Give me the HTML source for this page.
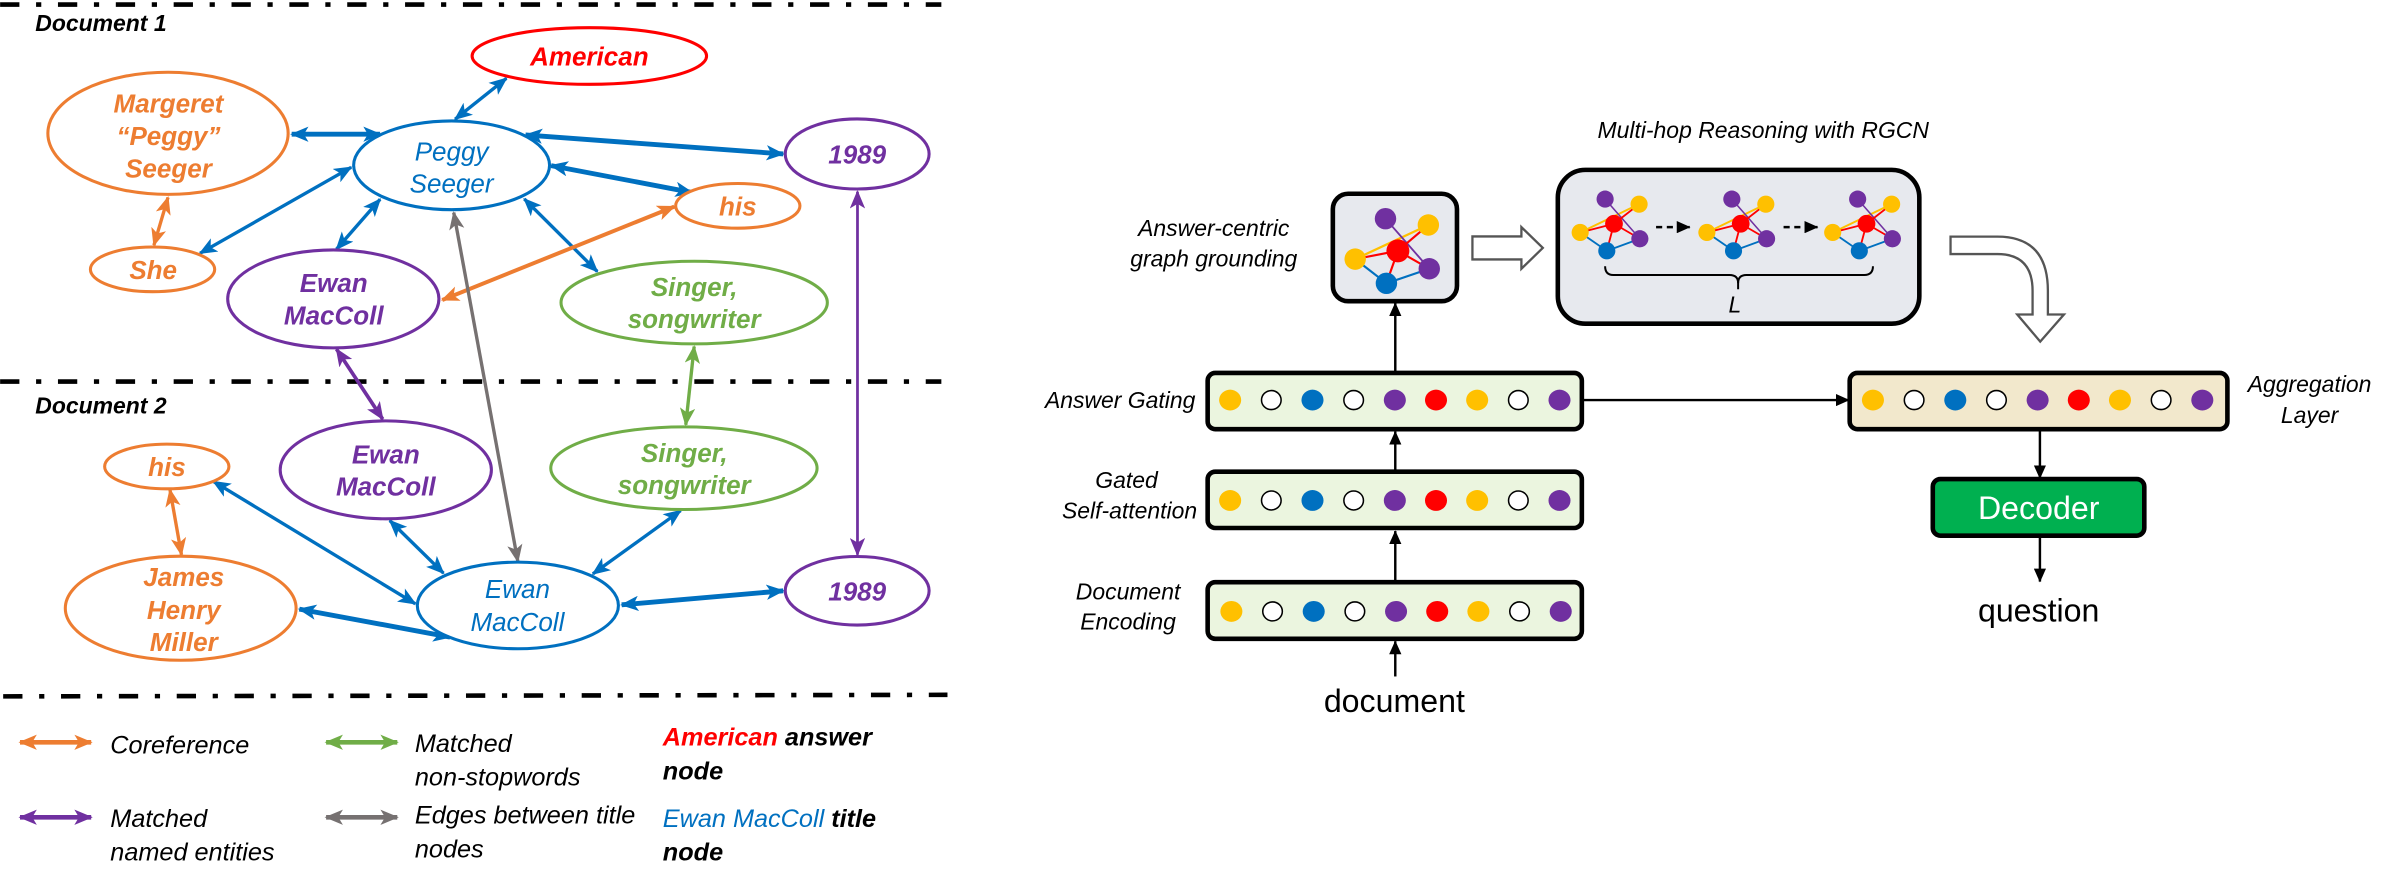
<!DOCTYPE html>
<html><head><meta charset="utf-8"><style>
html,body{margin:0;padding:0;background:#fff;}
svg{display:block;}
text{font-family:"Liberation Sans",Arial,sans-serif;}
.n{font-weight:bold;font-style:italic;font-size:17px;text-anchor:middle;dominant-baseline:central;}
.t{font-style:italic;font-size:17px;text-anchor:middle;dominant-baseline:central;}
.lg{font-style:italic;font-size:16.5px;dominant-baseline:central;}
.lb{font-style:italic;font-size:15px;dominant-baseline:central;}
</style></head><body>
<svg width="2400" height="884" viewBox="0 0 1568 577.6" xmlns="http://www.w3.org/2000/svg">
<defs>
<marker id="hb" markerUnits="userSpaceOnUse" markerWidth="12" markerHeight="10" refX="11" refY="5" orient="auto-start-reverse"><path d="M0,0 L12,5 L0,10 L3,5 z" fill="#0070c0"/></marker>
<marker id="ho" markerUnits="userSpaceOnUse" markerWidth="12" markerHeight="10" refX="11" refY="5" orient="auto-start-reverse"><path d="M0,0 L12,5 L0,10 L3,5 z" fill="#ed7d31"/></marker>
<marker id="hp" markerUnits="userSpaceOnUse" markerWidth="12" markerHeight="10" refX="11" refY="5" orient="auto-start-reverse"><path d="M0,0 L12,5 L0,10 L3,5 z" fill="#7030a0"/></marker>
<marker id="hg" markerUnits="userSpaceOnUse" markerWidth="12" markerHeight="10" refX="11" refY="5" orient="auto-start-reverse"><path d="M0,0 L12,5 L0,10 L3,5 z" fill="#70ad47"/></marker>
<marker id="hy" markerUnits="userSpaceOnUse" markerWidth="12" markerHeight="10" refX="11" refY="5" orient="auto-start-reverse"><path d="M0,0 L12,5 L0,10 L3,5 z" fill="#767171"/></marker>
<marker id="hk" markerUnits="userSpaceOnUse" markerWidth="9" markerHeight="8" refX="8.5" refY="4" orient="auto"><path d="M0,0 L9,4 L0,8 z" fill="#000"/></marker>
<g id="mg">
 <line x1="1032.4" y1="151.9" x2="1070.9" y2="133.4" stroke="#ffc000" stroke-width="1.3"/>
 <line x1="1048.7" y1="130.1" x2="1071.4" y2="156" stroke="#7030a0" stroke-width="1"/>
 <line x1="1054.5" y1="146.2" x2="1070.9" y2="133.4" stroke="#ff0000" stroke-width="1.2"/>
 <line x1="1054.5" y1="146.2" x2="1032.4" y2="151.9" stroke="#ff0000" stroke-width="1.2"/>
 <line x1="1054.5" y1="146.2" x2="1049.8" y2="163.9" stroke="#ff0000" stroke-width="1.2"/>
 <line x1="1054.5" y1="146.2" x2="1071.4" y2="156" stroke="#ff0000" stroke-width="1.2"/>
 <line x1="1049.8" y1="163.9" x2="1032.4" y2="151.9" stroke="#0070c0" stroke-width="1.2"/>
 <line x1="1049.8" y1="163.9" x2="1071.4" y2="156" stroke="#0070c0" stroke-width="1.2"/>
 <ellipse cx="1048.7" cy="130.1" rx="5.6" ry="5.6" fill="#7030a0"/>
 <ellipse cx="1070.9" cy="133.4" rx="5.6" ry="5.6" fill="#ffc000"/>
 <ellipse cx="1054.5" cy="146.2" rx="5.8" ry="5.8" fill="#ff0000"/>
 <ellipse cx="1032.4" cy="151.9" rx="5.6" ry="5.6" fill="#ffc000"/>
 <ellipse cx="1071.4" cy="156" rx="5.6" ry="5.6" fill="#7030a0"/>
 <ellipse cx="1049.8" cy="163.9" rx="5.6" ry="5.6" fill="#0070c0"/>
</g>
<g id="row">
 <ellipse cx="0" cy="0" rx="7.2" ry="6.8" fill="#ffc000"/>
 <ellipse cx="26.9" cy="0" rx="6.4" ry="6.2" fill="#fff" stroke="#000" stroke-width="1"/>
 <ellipse cx="53.8" cy="0" rx="7.2" ry="6.8" fill="#0070c0"/>
 <ellipse cx="80.7" cy="0" rx="6.4" ry="6.2" fill="#fff" stroke="#000" stroke-width="1"/>
 <ellipse cx="107.6" cy="0" rx="7.2" ry="6.8" fill="#7030a0"/>
 <ellipse cx="134.5" cy="0" rx="7.2" ry="6.8" fill="#ff0000"/>
 <ellipse cx="161.4" cy="0" rx="7.2" ry="6.8" fill="#ffc000"/>
 <ellipse cx="188.3" cy="0" rx="6.4" ry="6.2" fill="#fff" stroke="#000" stroke-width="1"/>
 <ellipse cx="215.2" cy="0" rx="7.2" ry="6.8" fill="#7030a0"/>
</g>
</defs>

<!-- dash-dot separators -->
<g stroke="#000" stroke-width="3" stroke-dasharray="12.6 10.9 3.4 10.9" fill="none">
<line x1="0" y1="3" x2="615" y2="3"/>
<line x1="0" y1="249.3" x2="615" y2="249.3"/>
<line x1="2" y1="455" x2="619" y2="454"/>
</g>
<text x="23" y="15" class="n" style="text-anchor:start;font-size:15px;fill:#000">Document 1</text>
<text x="23" y="265" class="n" style="text-anchor:start;font-size:15px;fill:#000">Document 2</text>

<!-- edges -->
<g fill="none">
<line x1="330.8" y1="51.2" x2="297.3" y2="77.9" stroke="#0070c0" stroke-width="2.2" marker-start="url(#hb)" marker-end="url(#hb)"/>
<line x1="190.5" y1="87.7" x2="248.3" y2="87.7" stroke="#0070c0" stroke-width="3.2" marker-start="url(#hb)" marker-end="url(#hb)"/>
<line x1="343.3" y1="88.2" x2="511.7" y2="100.6" stroke="#0070c0" stroke-width="3.2" marker-start="url(#hb)" marker-end="url(#hb)"/>
<line x1="360" y1="108.2" x2="452.2" y2="125.8" stroke="#0070c0" stroke-width="3.2" marker-start="url(#hb)" marker-end="url(#hb)"/>
<line x1="229.4" y1="109.3" x2="130.6" y2="165.5" stroke="#0070c0" stroke-width="2.2" marker-start="url(#hb)" marker-end="url(#hb)"/>
<line x1="248.3" y1="130.2" x2="219.8" y2="162.8" stroke="#0070c0" stroke-width="2.2" marker-start="url(#hb)" marker-end="url(#hb)"/>
<line x1="342.5" y1="130" x2="390.2" y2="177.4" stroke="#0070c0" stroke-width="2.2" marker-start="url(#hb)" marker-end="url(#hb)"/>
<line x1="440.5" y1="135" x2="288.9" y2="196" stroke="#ed7d31" stroke-width="2.6" marker-start="url(#ho)" marker-end="url(#ho)"/>
<line x1="109.7" y1="129" x2="100.5" y2="160.2" stroke="#ed7d31" stroke-width="2.2" marker-start="url(#ho)" marker-end="url(#ho)"/>
<line x1="296.4" y1="138.9" x2="338.3" y2="366.9" stroke="#767171" stroke-width="2.2" marker-start="url(#hy)" marker-end="url(#hy)"/>
<line x1="560.2" y1="125.2" x2="560.2" y2="362.5" stroke="#7030a0" stroke-width="1.8" marker-start="url(#hp)" marker-end="url(#hp)"/>
<line x1="219.8" y1="228.1" x2="250" y2="273.9" stroke="#7030a0" stroke-width="2.4" marker-start="url(#hp)" marker-end="url(#hp)"/>
<line x1="453.5" y1="226.4" x2="448" y2="277.6" stroke="#70ad47" stroke-width="2.2" marker-start="url(#hg)" marker-end="url(#hg)"/>
<line x1="111" y1="320" x2="118.5" y2="362.5" stroke="#ed7d31" stroke-width="2.2" marker-start="url(#ho)" marker-end="url(#ho)"/>
<line x1="139.4" y1="314.6" x2="271.3" y2="394.5" stroke="#0070c0" stroke-width="2.2" marker-start="url(#hb)" marker-end="url(#hb)"/>
<line x1="254.6" y1="340.1" x2="289.7" y2="374.5" stroke="#0070c0" stroke-width="2.2" marker-start="url(#hb)" marker-end="url(#hb)"/>
<line x1="444.7" y1="333.6" x2="387.3" y2="375" stroke="#0070c0" stroke-width="2.2" marker-start="url(#hb)" marker-end="url(#hb)"/>
<line x1="195.5" y1="398" x2="294" y2="416.3" stroke="#0070c0" stroke-width="3.2" marker-start="url(#hb)" marker-end="url(#hb)"/>
<line x1="406.1" y1="395.2" x2="511.7" y2="386" stroke="#0070c0" stroke-width="3.2" marker-start="url(#hb)" marker-end="url(#hb)"/>
</g>

<!-- nodes -->
<g fill="#fff" stroke-width="2">
<ellipse cx="385" cy="36.6" rx="76.6" ry="18.5" stroke="#ff0000"/>
<ellipse cx="109.7" cy="87.1" rx="78.5" ry="39.9" stroke="#ed7d31"/>
<ellipse cx="295" cy="108" rx="64" ry="29" stroke="#0070c0"/>
<ellipse cx="560" cy="100.6" rx="47" ry="22.9" stroke="#7030a0"/>
<ellipse cx="482" cy="134.5" rx="40.6" ry="14.6" stroke="#ed7d31"/>
<ellipse cx="99.6" cy="176" rx="40.6" ry="14.6" stroke="#ed7d31"/>
<ellipse cx="217.7" cy="195.3" rx="69" ry="32" stroke="#7030a0"/>
<ellipse cx="453.5" cy="197.7" rx="87" ry="27" stroke="#70ad47"/>
<ellipse cx="108.9" cy="304.8" rx="40.6" ry="14.6" stroke="#ed7d31"/>
<ellipse cx="252" cy="307" rx="69" ry="32" stroke="#7030a0"/>
<ellipse cx="446.8" cy="305.9" rx="87" ry="27" stroke="#70ad47"/>
<ellipse cx="118" cy="397.4" rx="75.4" ry="34" stroke="#ed7d31"/>
<ellipse cx="338.3" cy="395.6" rx="65.7" ry="28.3" stroke="#0070c0"/>
<ellipse cx="560" cy="386" rx="47" ry="22.4" stroke="#7030a0"/>
</g>
<g>
<text x="385" y="37" class="n" fill="#ff0000">American</text>
<text x="110" y="67.5" class="n" fill="#ed7d31">Margeret</text>
<text x="110" y="89" class="n" fill="#ed7d31">“Peggy”</text>
<text x="110" y="110" class="n" fill="#ed7d31">Seeger</text>
<text x="295" y="99" class="t" fill="#0070c0">Peggy</text>
<text x="295" y="120" class="t" fill="#0070c0">Seeger</text>
<text x="560" y="101" class="n" fill="#7030a0">1989</text>
<text x="482" y="135" class="n" fill="#ed7d31">his</text>
<text x="100" y="176.5" class="n" fill="#ed7d31">She</text>
<text x="218" y="185" class="n" fill="#7030a0">Ewan</text>
<text x="218" y="206" class="n" fill="#7030a0">MacColl</text>
<text x="453.5" y="187.5" class="n" fill="#70ad47">Singer,</text>
<text x="453.5" y="208.5" class="n" fill="#70ad47">songwriter</text>
<text x="109" y="305" class="n" fill="#ed7d31">his</text>
<text x="252" y="297" class="n" fill="#7030a0">Ewan</text>
<text x="252" y="318" class="n" fill="#7030a0">MacColl</text>
<text x="447" y="296" class="n" fill="#70ad47">Singer,</text>
<text x="447" y="317" class="n" fill="#70ad47">songwriter</text>
<text x="120" y="377" class="n" fill="#ed7d31">James</text>
<text x="120" y="398.5" class="n" fill="#ed7d31">Henry</text>
<text x="120" y="419.5" class="n" fill="#ed7d31">Miller</text>
<text x="338" y="385" class="t" fill="#0070c0">Ewan</text>
<text x="338" y="406.5" class="t" fill="#0070c0">MacColl</text>
<text x="560" y="386.5" class="n" fill="#7030a0">1989</text>
</g>

<!-- legend -->
<g fill="none" stroke-width="3">
<line x1="13" y1="485" x2="59.5" y2="485" stroke="#ed7d31" marker-start="url(#ho)" marker-end="url(#ho)"/>
<line x1="213" y1="485" x2="259.5" y2="485" stroke="#70ad47" marker-start="url(#hg)" marker-end="url(#hg)"/>
<line x1="13" y1="534" x2="59.5" y2="534" stroke="#7030a0" marker-start="url(#hp)" marker-end="url(#hp)"/>
<line x1="213" y1="534" x2="259.5" y2="534" stroke="#767171" marker-start="url(#hy)" marker-end="url(#hy)"/>
</g>
<text x="72" y="487" class="lg">Coreference</text>
<text x="271" y="486" class="lg">Matched</text>
<text x="271" y="508" class="lg">non-stopwords</text>
<text x="72" y="535" class="lg">Matched</text>
<text x="72" y="557" class="lg">named entities</text>
<text x="271" y="533" class="lg">Edges between title</text>
<text x="271" y="555" class="lg">nodes</text>
<text x="433" y="482" class="lg" style="font-weight:bold;"><tspan fill="#ff0000">American</tspan> answer</text>
<text x="433" y="504" class="lg" style="font-weight:bold;">node</text>
<text x="433" y="535" class="lg"><tspan fill="#0070c0">Ewan MacColl</tspan> <tspan style="font-weight:bold">title</tspan></text>
<text x="433" y="557" class="lg" style="font-weight:bold;">node</text>

<!-- right panel -->
<text x="1152" y="85" class="lb" text-anchor="middle">Multi-hop Reasoning with RGCN</text>
<text x="793" y="149" class="lb" text-anchor="middle">Answer-centric</text>
<text x="793" y="169" class="lb" text-anchor="middle">graph grounding</text>

<rect x="870.8" y="126.6" width="81.1" height="70.2" rx="10" fill="#e7e9ee" stroke="#000" stroke-width="3"/>
<g>
 <line x1="885.4" y1="169.3" x2="933.2" y2="147" stroke="#ffc000" stroke-width="1.5"/>
 <line x1="905.2" y1="142.9" x2="933.8" y2="175.6" stroke="#7030a0" stroke-width="1.2"/>
 <line x1="913.3" y1="163.9" x2="933.2" y2="147" stroke="#ff0000" stroke-width="1.4"/>
 <line x1="913.3" y1="163.9" x2="885.4" y2="169.3" stroke="#ff0000" stroke-width="1.4"/>
 <line x1="913.3" y1="163.9" x2="905.8" y2="185.1" stroke="#ff0000" stroke-width="1.4"/>
 <line x1="913.3" y1="163.9" x2="933.8" y2="175.6" stroke="#ff0000" stroke-width="1.4"/>
 <line x1="905.8" y1="185.1" x2="885.4" y2="169.3" stroke="#0070c0" stroke-width="1.4"/>
 <line x1="905.8" y1="185.1" x2="933.8" y2="175.6" stroke="#0070c0" stroke-width="1.4"/>
 <ellipse cx="905.2" cy="142.9" rx="7" ry="7" fill="#7030a0"/>
 <ellipse cx="933.2" cy="147" rx="7" ry="7" fill="#ffc000"/>
 <ellipse cx="913.3" cy="163.9" rx="7.5" ry="7.5" fill="#ff0000"/>
 <ellipse cx="885.4" cy="169.3" rx="7" ry="7" fill="#ffc000"/>
 <ellipse cx="933.8" cy="175.6" rx="7" ry="7" fill="#7030a0"/>
 <ellipse cx="905.8" cy="185.1" rx="7" ry="7" fill="#0070c0"/>
</g>
<!-- hollow arrow -->
<path d="M962,154.5 L994,154.5 L994,148.4 L1008,162 L994,175.6 L994,169.5 L962,169.5 Z" fill="#fff" stroke="#555" stroke-width="1.5"/>

<rect x="1017.8" y="111" width="236.2" height="100.5" rx="18" fill="#e7e9ee" stroke="#000" stroke-width="3"/>
<use href="#mg"/>
<use href="#mg" transform="translate(82.8,0)"/>
<use href="#mg" transform="translate(165,0)"/>
<line x1="1082" y1="148.4" x2="1104" y2="148.4" stroke="#000" stroke-width="1.6" stroke-dasharray="4 3" marker-end="url(#hk)"/>
<line x1="1165.3" y1="148.4" x2="1187.5" y2="148.4" stroke="#000" stroke-width="1.6" stroke-dasharray="4 3" marker-end="url(#hk)"/>
<path d="M1048.7,174 Q1048.7,179.7 1054,179.7 L1130,179.7 Q1135.6,179.7 1135.6,185 Q1135.6,179.7 1141,179.7 L1218,179.7 Q1223.7,179.7 1223.7,174" fill="none" stroke="#000" stroke-width="1.3"/>
<line x1="1135.6" y1="182" x2="1135.6" y2="189" stroke="#000" stroke-width="1.3"/>
<text x="1133.5" y="199" class="lb" text-anchor="middle">L</text>

<!-- bent hollow arrow -->
<path d="M1274.4,154.6 L1305,154.6 Q1338,154.6 1338,190 L1338,205.5 L1348.5,205.5 L1333,223.2 L1318,205.5 L1328,205.5 L1328,190 Q1328,166 1305,166 L1274.4,166 Z" fill="#fff" stroke="#555" stroke-width="1.5"/>

<!-- rows -->
<rect x="789" y="243.7" width="244.5" height="36.7" rx="5" fill="#ebf5df" stroke="#000" stroke-width="3"/>
<rect x="789" y="308.2" width="244.5" height="36.8" rx="5" fill="#ebf5df" stroke="#000" stroke-width="3"/>
<rect x="789" y="380.4" width="244.5" height="37" rx="5" fill="#ebf5df" stroke="#000" stroke-width="3"/>
<rect x="1208.5" y="243.7" width="246.8" height="36.7" rx="5" fill="#f2e8cc" stroke="#000" stroke-width="3"/>
<use href="#row" transform="translate(803.7,261.4)"/>
<use href="#row" transform="translate(803.7,327)"/>
<use href="#row" transform="translate(804.5,399.5)"/>
<use href="#row" transform="translate(1223.7,261.4)"/>

<g stroke="#000" stroke-width="1.6" fill="none">
<line x1="911.6" y1="442" x2="911.6" y2="419" marker-end="url(#hk)"/>
<line x1="911.6" y1="379.8" x2="911.6" y2="347" marker-end="url(#hk)"/>
<line x1="911.6" y1="308" x2="911.6" y2="282" marker-end="url(#hk)"/>
<line x1="911.6" y1="243.7" x2="911.6" y2="198" marker-end="url(#hk)"/>
<line x1="1033.5" y1="261.4" x2="1208" y2="261.4" marker-end="url(#hk)"/>
<line x1="1332.8" y1="280.4" x2="1332.8" y2="312.5" marker-end="url(#hk)"/>
<line x1="1332.8" y1="350" x2="1332.8" y2="380" marker-end="url(#hk)"/>
</g>

<rect x="1262.8" y="313" width="138.2" height="37" rx="5" fill="#00b050" stroke="#000" stroke-width="3"/>
<text x="1332" y="332" text-anchor="middle" dominant-baseline="central" style="font-size:21px" fill="#fff">Decoder</text>
<text x="1332" y="399" text-anchor="middle" dominant-baseline="central" style="font-size:21px">question</text>
<text x="911" y="458" text-anchor="middle" dominant-baseline="central" style="font-size:21px">document</text>

<text x="781" y="261.5" class="lb" text-anchor="end">Answer Gating</text>
<text x="736" y="313.5" class="lb" text-anchor="middle">Gated</text>
<text x="738" y="333.5" class="lb" text-anchor="middle">Self-attention</text>
<text x="737" y="386.5" class="lb" text-anchor="middle">Document</text>
<text x="737" y="406" class="lb" text-anchor="middle">Encoding</text>
<text x="1509" y="251" class="lb" text-anchor="middle">Aggregation</text>
<text x="1509" y="271" class="lb" text-anchor="middle">Layer</text>
</svg>
</body></html>
